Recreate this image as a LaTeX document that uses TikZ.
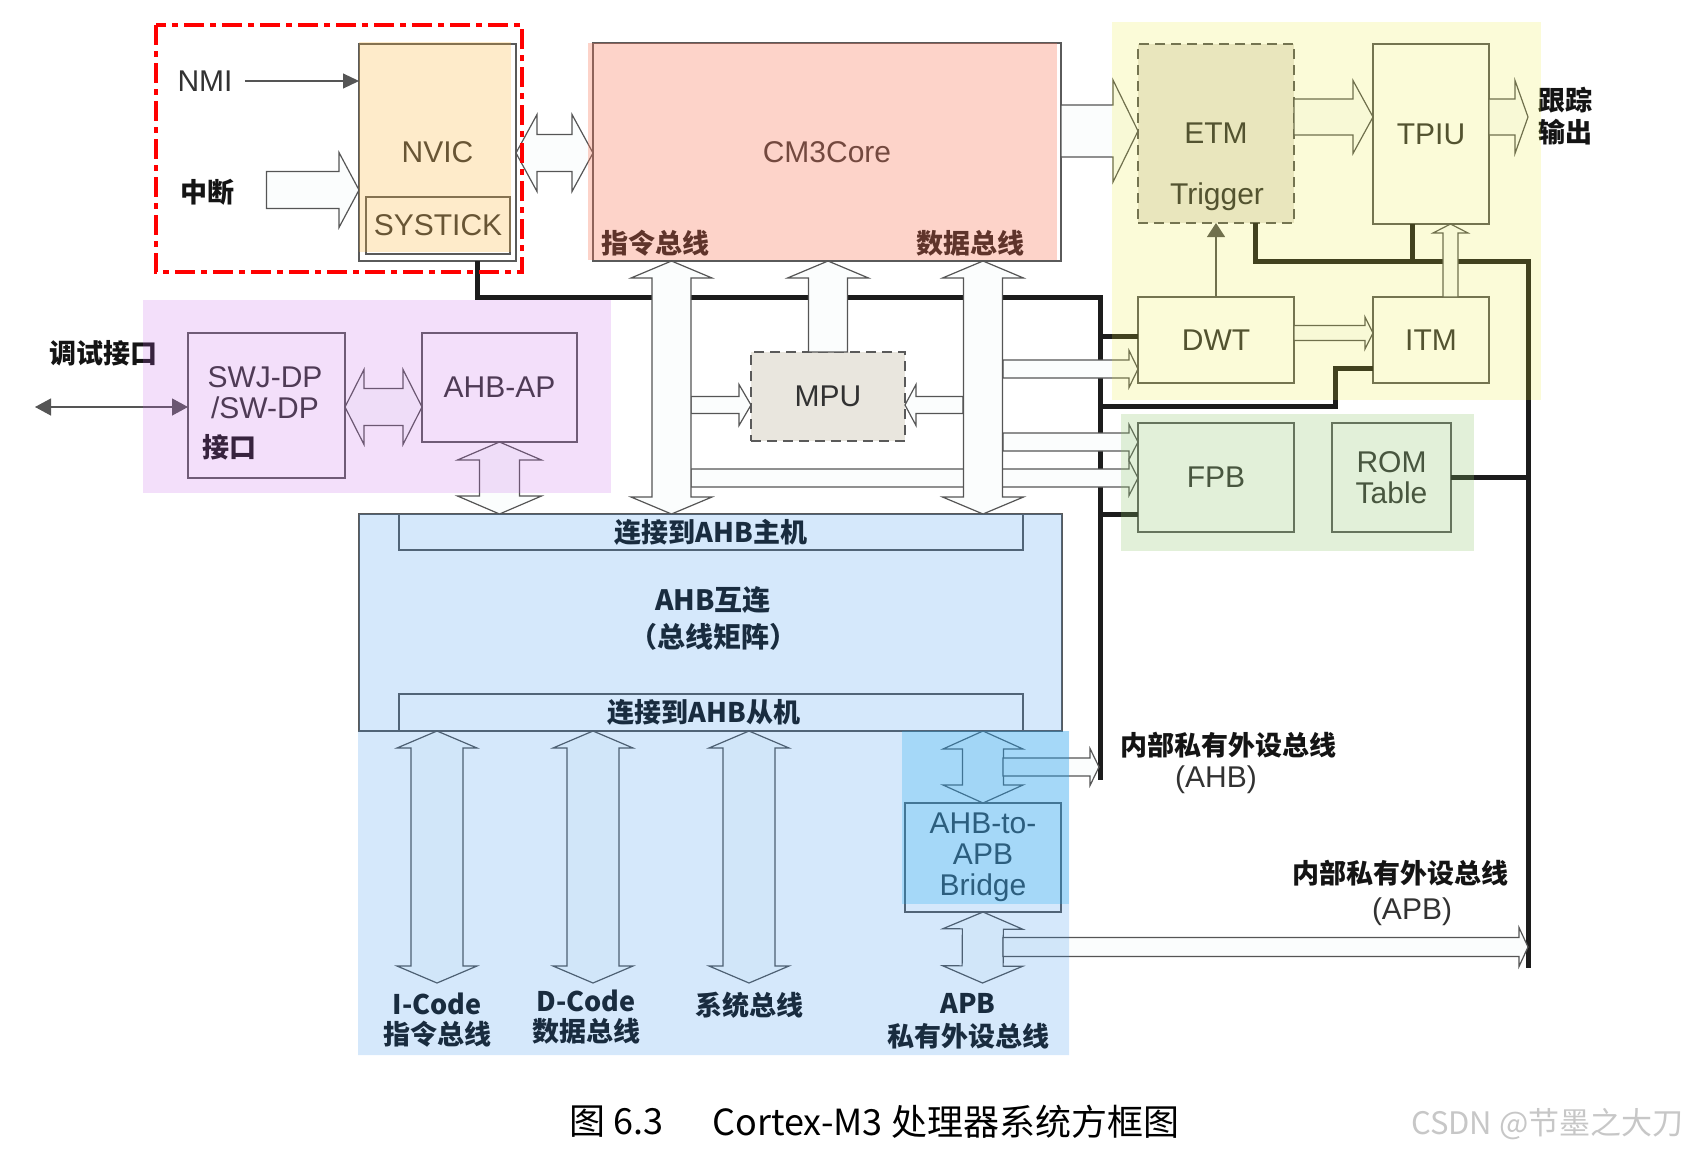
\documentclass[tikz,border=0pt]{standalone}
\usepackage{fontspec}
\setmainfont{Liberation Sans}
\newfontfamily\cjk{Noto Sans CJK SC}
\usetikzlibrary{arrows.meta,calc}
\definecolor{boxline}{RGB}{90,90,90}
\definecolor{labtext}{RGB}{50,50,50}
\definecolor{cntext}{RGB}{20,20,20}
\definecolor{busline}{RGB}{28,28,28}
\definecolor{arrline}{RGB}{85,85,85}
\definecolor{arrfill}{RGB}{251,253,253}
\definecolor{dboxfill}{RGB}{233,230,222}
\definecolor{zorange}{RGB}{250,180,60}
\definecolor{zsalmon}{RGB}{250,120,90}
\definecolor{zyellow}{RGB}{235,235,40}
\definecolor{zgreen}{RGB}{139,195,103}
\definecolor{zpurple}{RGB}{195,95,230}
\definecolor{zblue}{RGB}{45,140,235}
\definecolor{zdblue}{RGB}{30,170,240}
\newcommand{\lab}{\fontsize{15}{15.5}\selectfont}
\newcommand{\cnb}{\cjk\bfseries\fontsize{13.5}{16}\selectfont}
\newcommand{\fatarrow}[6][]{%
  \coordinate (fa-a) at #2;
  \coordinate (fa-b) at #3;
  \coordinate (fa-n) at ($(fa-b)!#6!(fa-a)$);
  \draw[fat,#1] ($(fa-a)!#4!90:(fa-b)$) -- ($(fa-n)!#4!-90:(fa-a)$) -- ($(fa-n)!#5!-90:(fa-a)$)
    -- (fa-b) -- ($(fa-n)!#5!90:(fa-a)$) -- ($(fa-n)!#4!90:(fa-a)$) -- ($(fa-a)!#4!-90:(fa-b)$) -- cycle;}
\newcommand{\dfatarrow}[6][]{%
  \coordinate (fa-a) at #2;
  \coordinate (fa-b) at #3;
  \coordinate (fa-m) at ($(fa-a)!#6!(fa-b)$);
  \coordinate (fa-n) at ($(fa-b)!#6!(fa-a)$);
  \draw[fat,#1] (fa-a) -- ($(fa-m)!#5!90:(fa-b)$) -- ($(fa-m)!#4!90:(fa-b)$) -- ($(fa-n)!#4!-90:(fa-a)$)
    -- ($(fa-n)!#5!-90:(fa-a)$) -- (fa-b) -- ($(fa-n)!#5!90:(fa-a)$) -- ($(fa-n)!#4!90:(fa-a)$)
    -- ($(fa-m)!#4!-90:(fa-b)$) -- ($(fa-m)!#5!-90:(fa-b)$) -- cycle;}

\begin{document}
\begin{tikzpicture}[x=0.5pt, y=-0.5pt,
  box/.style={draw=boxline, line width=0.75pt, inner sep=0pt, outer sep=0pt, align=center, text=labtext, font=\lab},
  dbox/.style={box, dash pattern=on 5pt off 3pt, fill=dboxfill},
  en/.style={inner sep=0pt, align=center, text=labtext, font=\lab},
  cn/.style={inner sep=0pt, align=center, text=cntext, font=\cnb},
  bus/.style={draw=busline, line width=2.5pt},
  fat/.style={draw=arrline, line width=0.6pt, fill=arrfill},
  wire/.style={draw=arrline, line width=0.6pt},
  hilite/.style={draw=red, line width=2pt, dash pattern=on 10pt off 3pt on 3pt off 3pt}]
\useasboundingbox (0,0) rectangle (1687,1157);

\node[box, minimum width=78.5pt, minimum height=108.5pt] (nvic) at (437.5,152.5) {NVIC};
\node[box, minimum width=72pt, minimum height=28.5pt] (systick) at (438,225.5) {SYSTICK};
\node[en] (nmi) at (205,81) {NMI};
\node[cn] (intr) at (207,192) {中断};
\node[box, minimum width=234pt, minimum height=109pt] (cm3) at (827,152) {CM3Core};
\node[cn] (ilbl) at (655,243) {指令总线};
\node[cn] (dlbl) at (970,243) {数据总线};
\node[dbox, minimum width=78pt, minimum height=89.5pt] (etm) at (1216,133.5) {ETM};
\node[en] (trig) at (1217,197) {Trigger};
\node[box, minimum width=58pt, minimum height=90pt] (tpiu) at (1431,134) {TPIU};
\node[cn] (trace) at (1565,116) {跟踪\\输出};
\node[box, minimum width=78pt, minimum height=43pt] (dwt) at (1216,340) {DWT};
\node[box, minimum width=58pt, minimum height=43pt] (itm) at (1431,340) {ITM};
\node[box, minimum width=78pt, minimum height=54.5pt] (fpb) at (1216,477.5) {FPB};
\node[box, minimum width=59.5pt, minimum height=54.5pt] (rom) at (1391.5,477.5) {ROM\\Table};
\node[dbox, minimum width=77pt, minimum height=44.5pt] (mpu) at (828,396.5) {MPU};
\node[box, minimum width=78.5pt, minimum height=72.5pt] (swj) at (266.5,405.5) {};
\node[en] (swjtxt) at (265,393) {SWJ-DP\\/SW-DP};
\node[cn] (swjif) at (229,447) {接口};
\node[box, minimum width=77.5pt, minimum height=54.5pt] (ahbap) at (499.5,387.5) {AHB-AP};
\node[cn] (dbg) at (103,353) {调试接口};
\node[box, minimum width=351.5pt, minimum height=108.5pt] (ahb) at (710.5,622.5) {};
\node[box, minimum width=312pt, minimum height=18pt, font=\cnb, text=cntext] (ahbm) at (711,532) {连接到AHB主机};
\node[box, minimum width=312pt, minimum height=18.5pt, font=\cnb, text=cntext, text width=300pt] (ahbs) at (711,712.5) {\hspace*{-7pt}连接到AHB从机};
\node[cn, font=\cjk\bfseries\fontsize{14}{18.5}\selectfont] (ahbtxt) at (713,618.5) {AHB互连\\（总线矩阵）};
\node[box, minimum width=78pt, minimum height=54.5pt] (bridge) at (983,857.5) {AHB-to-\\APB\\Bridge};
\node[cn, font=\cjk\bfseries\fontsize{13.5}{15}\selectfont] (icode) at (437,1020) {I-Code\\指令总线};
\node[cn, font=\cjk\bfseries\fontsize{13.5}{15}\selectfont] (dcode) at (586,1017) {D-Code\\数据总线};
\node[cn] (sysb) at (749,1005) {系统总线};
\node[cn, font=\cjk\bfseries\fontsize{13.5}{16.5}\selectfont] (apb) at (968,1021.5) {APB\\私有外设总线};
\node[cn] (ppb1) at (1228,745) {内部私有外设总线};
\node[en] (ppb1b) at (1216,780) {(AHB)};
\node[cn] (ppb2) at (1400,873) {内部私有外设总线};
\node[en] (ppb2b) at (1412,912) {(APB)};

\coordinate (ibus) at (671.5,0);
\coordinate (dbus) at (983,0);
\coordinate (ibr) at (691,0);
\coordinate (dbl) at (963,0);
\coordinate (dbr) at (1003,0);
\coordinate (apbr) at (1003,0);
\coordinate (trout) at (1528,117);
\coordinate (dbgend) at (35,407);
\coordinate (icodeB) at (437,983);
\coordinate (dcodeB) at (593,983);
\coordinate (sysB) at (749,983);
\coordinate (apbB) at (982.5,983);
\coordinate (ahbout) at (1099,767);
\coordinate (apbout) at (1528,947);

\draw[bus] (nvic.south -| 477,0) |- (1100,297) -- (1100,780);
\draw[bus] (1100,336) -- (dwt.west |- 0,336);
\draw[bus] (1100,406) -| (1335,368) -- (itm.west |- 0,368);
\draw[bus] (1100,514) -- (fpb.west |- 0,514);
\draw[bus] (etm.south -| 1255,0) |- (1528,261) -- (1528,968);
\draw[bus] (tpiu.south -| 1412,0) -- (1412,261);
\draw[bus] (rom.east) -- (rom.east -| 1528,0);

\draw[wire, -{Triangle[length=8pt,width=7.5pt]}] ([xshift=6pt]nmi.east) -- (nmi.east -| nvic.west);
\draw[wire, -{Triangle[length=7pt,width=9pt]}] (dwt.north) -- (etm.south);
\draw[wire, {Triangle[length=8pt,width=8.5pt]}-{Triangle[length=8pt,width=8.5pt]}] (dbgend) -- (swj.west |- dbgend);

\fatarrow{($(intr.east)+(32,-2)$)}{($(intr.east -| nvic.west)+(0,-2)$)}{9.25pt}{18.75pt}{10pt}
\dfatarrow{(nvic.east |- 0,153)}{(cm3.west |- 0,153)}{9.25pt}{19.25pt}{10.5pt}
\fatarrow{(cm3.east |- 0,131)}{(etm.west |- 0,131)}{13pt}{25.5pt}{12.5pt}
\fatarrow{(etm.east |- 0,117)}{(tpiu.west |- 0,117)}{9pt}{18.25pt}{10pt}
\fatarrow{(tpiu.east |- 0,117)}{(trout)}{9pt}{18.25pt}{6.5pt}
\fatarrow{(dwt.east |- 0,333)}{(itm.west |- 0,333)}{3.75pt}{8pt}{4pt}
\fatarrow{(itm.north -| 1450.5,0)}{(tpiu.south -| 1450.5,0)}{3.75pt}{8.75pt}{4.5pt}
\fatarrow{(ibr |- 0,478)}{(fpb.west |- 0,478)}{4.5pt}{8.75pt}{4.5pt}
\fatarrow{(ibr |- 0,405)}{(mpu.west |- 0,405)}{4.25pt}{10.25pt}{6pt}
\fatarrow{(dbl |- 0,405)}{(mpu.east |- 0,405)}{4.25pt}{10.25pt}{5.5pt}
\fatarrow{(dbr |- 0,369)}{(dwt.west |- 0,369)}{4.5pt}{9.25pt}{4.5pt}
\fatarrow{(dbr |- 0,442)}{(fpb.west |- 0,442)}{4.5pt}{8.75pt}{4.5pt}
\dfatarrow{(ibus |- cm3.south)}{(ibus |- ahb.north)}{9.75pt}{20.25pt}{8.5pt}
\fatarrow{(mpu.north)}{(mpu.north |- cm3.south)}{9.75pt}{20.25pt}{8.5pt}
\dfatarrow{(dbus |- cm3.south)}{(dbus |- ahb.north)}{9.75pt}{20.25pt}{8.5pt}
\dfatarrow{(swj.east |- 0,407)}{(ahbap.west |- 0,407)}{9.25pt}{18.75pt}{9.5pt}
\dfatarrow{(ahbap.south)}{(ahbap.south |- ahb.north)}{10pt}{21pt}{9pt}
\dfatarrow{(ahb.south -| icodeB)}{(icodeB)}{13pt}{20pt}{8.5pt}
\dfatarrow{(ahb.south -| dcodeB)}{(dcodeB)}{13pt}{20pt}{8.5pt}
\dfatarrow{(ahb.south -| sysB)}{(sysB)}{13pt}{20pt}{8.5pt}
\dfatarrow{(ahb.south -| bridge.north)}{(bridge.north)}{10.25pt}{20pt}{9pt}
\dfatarrow{(bridge.south)}{(apbB)}{10.25pt}{20pt}{8.5pt}
\fatarrow{(apbr |- 0,767)}{(ahbout)}{4.5pt}{9.25pt}{4.5pt}
\fatarrow{(apbr |- 0,947)}{(apbout)}{4.75pt}{9.75pt}{4.5pt}

\fill[zorange, fill opacity=0.27] (359,42) rectangle (511,252);
\fill[zsalmon, fill opacity=0.33] (588,43) rectangle (1057,260);
\fill[zyellow, fill opacity=0.18] (1112,22) rectangle (1541,400);
\fill[zgreen, fill opacity=0.25] (1121,414) rectangle (1474,551);
\fill[zpurple, fill opacity=0.2] (143,300) rectangle (611,493);
\fill[zblue, fill opacity=0.2] (359,514) rectangle (1062,731) (358,731) rectangle (1069,1055);
\fill[zdblue, fill opacity=0.26] (902,731) rectangle (1069,904);
\draw[hilite] (156,25) rectangle (522,272);

\node[anchor=west, inner sep=0pt, font=\cjk\fontsize{18}{22}\selectfont] (fignum) at (569,1122) {图 6.3};
\node[anchor=west, inner sep=0pt, font=\cjk\fontsize{18}{22}\selectfont] (figttl) at (712,1122) {Cortex-M3 处理器系统方框图};
\node[anchor=east, inner sep=0pt, text=black!22, font=\cjk\fontsize{15.5}{20}\selectfont] (wmark) at (1684,1124) {CSDN @节墨之大刀};
\end{tikzpicture}
\end{document}
